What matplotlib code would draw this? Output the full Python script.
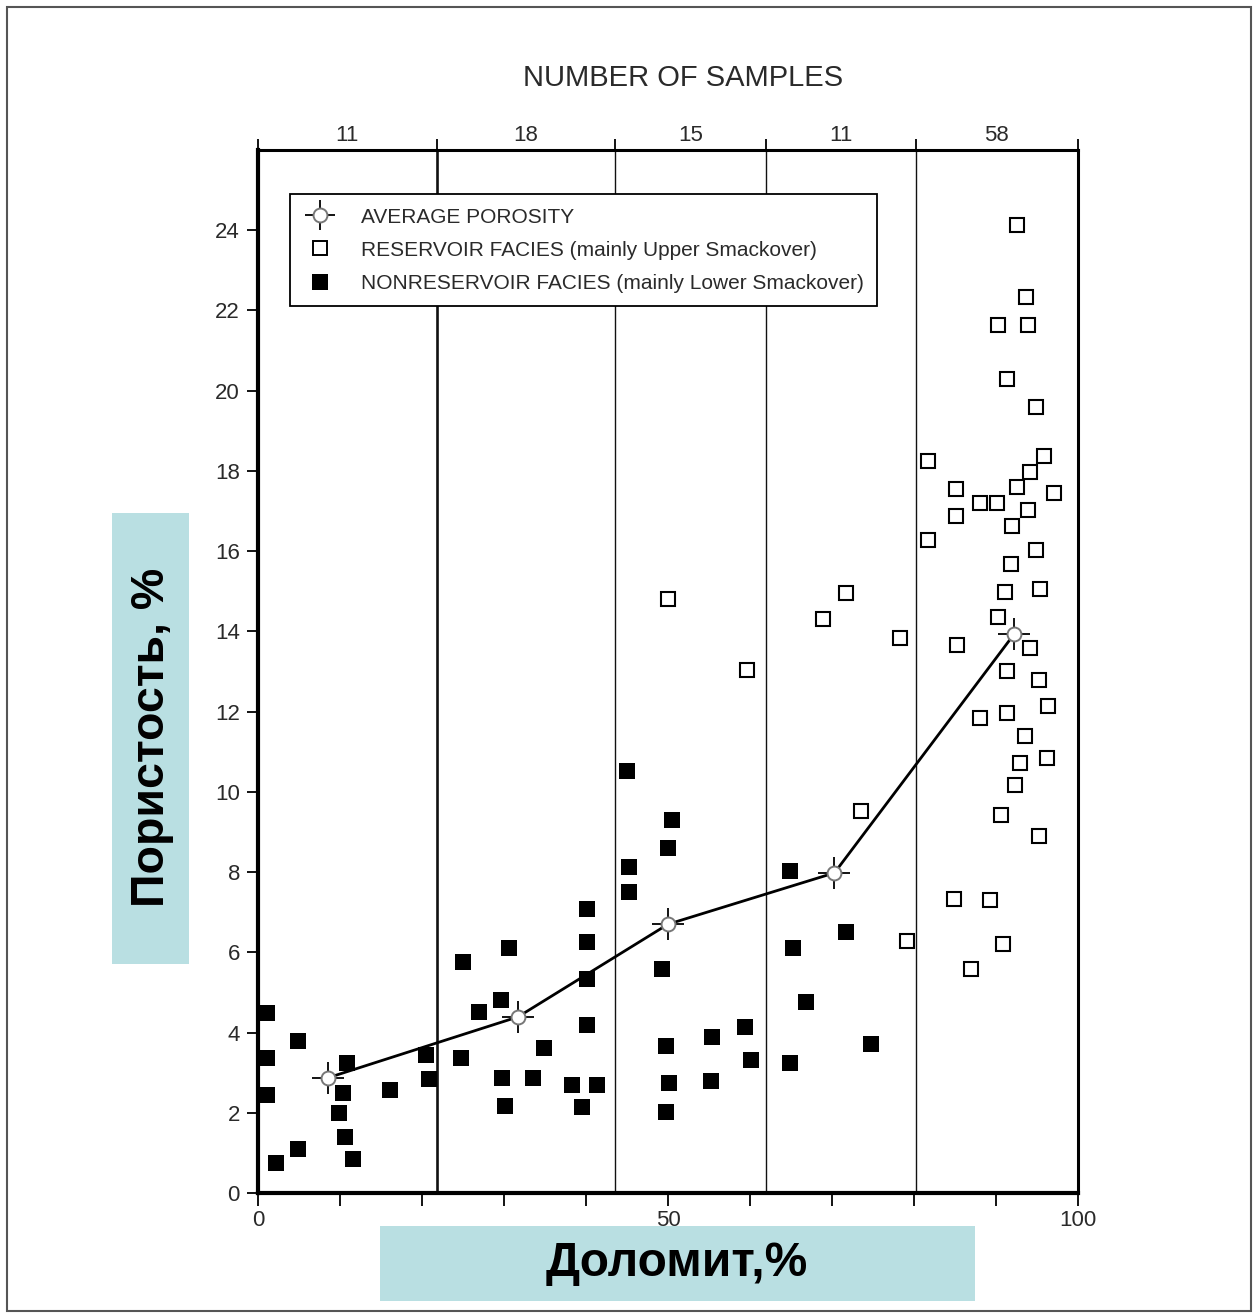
import matplotlib
matplotlib.use("Agg")
import matplotlib.pyplot as plt
from matplotlib.lines import Line2D
from matplotlib.patches import Rectangle

plt.rcParams['font.family'] = ['Liberation Sans', 'DejaVu Sans']

# dolomite content (%) and porosity (%) per sample
nonres_dolomite = [1.06, 1.06, 1.06, 2.2, 4.84, 4.91, 10.9, 10.4, 9.9, 10.6, 11.6, 16.1,
                   20.5, 20.9, 25.0, 24.8, 27.0, 29.6, 30.6, 29.8, 30.1, 33.5, 34.9, 38.3,
                   39.5, 40.1, 40.1, 40.1, 40.1, 41.4, 45.0, 45.2, 45.2, 49.3, 50.5, 50.0,
                   49.8, 50.1, 49.8, 55.2, 55.4, 59.4, 60.1, 64.9, 65.2, 64.9, 66.8, 71.7,
                   74.8]
nonres_porosity = [4.49, 3.36, 2.44, 0.74, 3.80, 1.09, 3.23, 2.49, 2.00, 1.40, 0.86, 2.58,
                   3.44, 2.83, 5.76, 3.36, 4.50, 4.80, 6.11, 2.87, 2.17, 2.87, 3.61, 2.69,
                   2.14, 7.07, 6.25, 5.33, 4.19, 2.69, 10.52, 8.12, 7.51, 5.58, 9.30, 8.59,
                   3.66, 2.74, 2.02, 2.79, 3.90, 4.15, 3.32, 8.03, 6.11, 3.23, 4.75, 6.51,
                   3.71]

res_dolomite = [50.0, 59.6, 68.9, 71.7, 73.5, 78.3, 79.1, 92.6, 93.7, 90.3, 93.9, 91.4,
                94.9, 81.7, 95.9, 94.2, 92.5, 97.1, 85.1, 88.0, 90.1, 93.9, 92.0, 85.1,
                81.7, 94.9, 91.8, 91.1, 95.4, 90.3, 85.3, 94.2, 91.3, 95.2, 96.3, 88.1,
                91.3, 93.5, 92.9, 96.2, 92.3, 90.6, 95.2, 84.9, 89.3, 90.8, 86.9]
res_porosity = [14.80, 13.04, 14.30, 14.95, 9.52, 13.83, 6.29, 24.13, 22.34, 21.63, 21.63,
                20.29, 19.60, 18.25, 18.38, 17.98, 17.59, 17.46, 17.55, 17.21, 17.21, 17.02,
                16.62, 16.88, 16.28, 16.03, 15.67, 14.97, 15.05, 14.35, 13.66, 13.58, 13.01,
                12.79, 12.14, 11.83, 11.96, 11.39, 10.73, 10.85, 10.17, 9.42, 8.90, 7.34,
                7.30, 6.21, 5.58]

avg_dolomite = [8.5, 31.7, 50.0, 70.3, 92.2]
avg_porosity = [2.87, 4.39, 6.70, 7.98, 13.93]

# class boundaries along the dolomite axis and sample counts per class
class_edges = [0, 21.8, 43.5, 62.0, 80.2, 100]
class_counts = ['11', '18', '15', '11', '58']

W, H = 1253, 1316
fig = plt.figure(figsize=(W / 100, H / 100), dpi=100)
fig.patch.set_facecolor('white')


def fx(px):
    return px / W


def fy(py):
    return 1 - py / H


ax = fig.add_axes([fx(258), fy(1193), fx(1078) - fx(258), fy(150) - fy(1193)])
ax.set_xlim(0, 100)
ax.set_ylim(0, 26)

txt = '#2a2a2a'

# class dividers
for i, x in enumerate(class_edges[1:-1]):
    ax.axvline(x, color='#111111', lw=1.9 if i == 0 else 1.0, zorder=1)

# average porosity curve
ax.plot(avg_dolomite, avg_porosity, color='black', lw=2.0, zorder=3)

ax.plot(nonres_dolomite, nonres_porosity, ls='none', marker='s', ms=11.5,
        mfc='black', mec='black', mew=0, zorder=4)
ax.plot(res_dolomite, res_porosity, ls='none', marker='s', ms=10.3,
        mfc='white', mec='black', mew=1.5, zorder=4)

ax.plot(avg_dolomite, avg_porosity, ls='none', marker='+', ms=23, mew=1.3,
        color='black', zorder=5)
ax.plot(avg_dolomite, avg_porosity, ls='none', marker='o', ms=10,
        mfc='white', mec='#777777', mew=1.4, zorder=6)

# axes frame and ticks
for side, lw in [('left', 3.0), ('bottom', 3.0), ('top', 2.2), ('right', 2.2)]:
    ax.spines[side].set_linewidth(lw)
    ax.spines[side].set_color('black')

ax.set_yticks(range(0, 25, 2))
ax.set_xticks(range(0, 101, 10))
ax.set_xticklabels(['0', '', '', '', '', '50', '', '', '', '', '100'])
ax.tick_params(axis='y', direction='out', length=8, width=1.3, labelsize=16,
               labelcolor=txt, pad=5)
ax.tick_params(axis='x', direction='out', length=9, width=1.3, labelsize=16,
               labelcolor=txt, pad=3)

top = ax.twiny()
top.set_xlim(0, 100)
for s in top.spines.values():
    s.set_visible(False)
top.set_xticks(class_edges)
top.set_xticklabels([''] * len(class_edges))
mids = [(a + b) / 2 for a, b in zip(class_edges[:-1], class_edges[1:])]
top.set_xticks(mids, minor=True)
top.set_xticklabels(class_counts, minor=True)
top.tick_params(axis='x', which='major', direction='out', length=8, width=1.3)
top.tick_params(axis='x', which='minor', length=0, labelsize=16, labelcolor=txt, pad=3)
top.set_xlabel('NUMBER OF SAMPLES', fontsize=21, color=txt)
top.xaxis.set_label_coords((683 - 258) / 820, (1193 - 78) / 1043)
top.xaxis.label.set_va('center')

# legend
avg_handle = (Line2D([], [], ls='none', marker='+', ms=22, mew=1.3, color='black'),
              Line2D([], [], ls='none', marker='o', ms=10, mfc='white', mec='#777777', mew=1.4))
res_handle = Line2D([], [], ls='none', marker='s', ms=9.5, mfc='white', mec='black', mew=1.4)
nonres_handle = Line2D([], [], ls='none', marker='s', ms=11, mfc='black', mec='black', mew=0)
leg = ax.legend([avg_handle, res_handle, nonres_handle],
                ['AVERAGE POROSITY',
                 'RESERVOIR FACIES (mainly Upper Smackover)',
                 'NONRESERVOIR FACIES (mainly Lower Smackover)'],
                loc='upper left', bbox_to_anchor=((290 - 258) / 820, (1193 - 194) / 1043),
                fontsize=15, frameon=True, fancybox=False, framealpha=1,
                edgecolor='black', handlelength=1.6, handletextpad=1.15,
                borderpad=0.65, labelspacing=0.68, borderaxespad=0)
leg.get_frame().set_linewidth(1.3)
for t in leg.get_texts():
    t.set_color(txt)

# Russian axis captions on tinted panels
panel = '#b9dfe2'
fig.patches.append(Rectangle((fx(112), fy(964)), fx(189) - fx(112), fy(513) - fy(964),
                             transform=fig.transFigure, facecolor=panel, edgecolor='none'))
fig.patches.append(Rectangle((fx(380), fy(1301)), fx(975) - fx(380), fy(1226) - fy(1301),
                             transform=fig.transFigure, facecolor=panel, edgecolor='none'))
fig.text(fx(152), fy(737), 'Пористость, %', rotation=90, ha='center', va='center',
         fontsize=33.5, fontweight='bold', color='black')
fig.text(fx(677), fy(1264), 'Доломит,%', ha='center', va='center',
         fontsize=34.5, fontweight='bold', color='black')

# outer frame
fig.patches.append(Rectangle((fx(7), fy(1311)), fx(1251) - fx(7), fy(7) - fy(1311),
                             transform=fig.transFigure, facecolor='none',
                             edgecolor='#555555', lw=1.5))

fig.savefig('out.png', dpi=100)
